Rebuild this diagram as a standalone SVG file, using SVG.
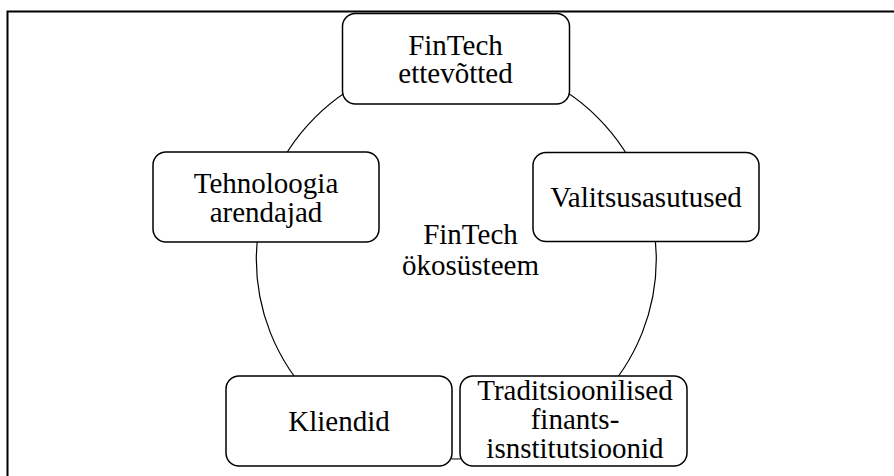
<svg xmlns="http://www.w3.org/2000/svg" width="894" height="476" viewBox="0 0 894 476">
<style>
.box{fill:#fff;stroke:#000;stroke-width:1.5}
.t{font-family:"Liberation Serif","Times New Roman",serif;font-size:29px;fill:#000;text-anchor:middle}
</style>
<rect x="0" y="0" width="894" height="476" fill="#fff"/>
<rect x="7.5" y="11.5" width="920" height="500" fill="none" stroke="#000" stroke-width="2"/>
<g id="connectors">
<circle cx="456.3" cy="259" r="200" fill="none" stroke="#000" stroke-width="1.2"/>
</g>
<g id="center-label">
<text class="t" x="470.5" y="243.5">FinTech</text>
<text class="t" x="470.5" y="275">ökosüsteem</text>
</g>
<g id="fintech">
<rect class="box" x="342.5" y="13.5" width="227" height="90.5" rx="13"/>
<text class="t" x="455.5" y="54.5">FinTech</text>
<text class="t" x="455.5" y="83">ettevõtted</text>
</g>
<g id="tehnoloogia">
<rect class="box" x="153" y="152" width="226" height="90" rx="13"/>
<text class="t" x="266" y="192.5">Tehnoloogia</text>
<text class="t" x="266" y="221.5">arendajad</text>
</g>
<g id="valitsus">
<rect class="box" x="533" y="152.5" width="226" height="89" rx="13"/>
<text class="t" x="646" y="207">Valitsusasutused</text>
</g>
<g id="kliendid">
<rect class="box" x="226" y="376" width="226" height="90" rx="13"/>
<text class="t" x="339" y="431">Kliendid</text>
</g>
<g id="traditsioonilised">
<rect class="box" x="460" y="376" width="227" height="90" rx="13"/>
<text class="t" x="575" y="399.5">Traditsioonilised</text>
<text class="t" x="575" y="428.5">finants-</text>
<text class="t" x="575" y="457.5">isnstitutsioonid</text>
</g>
</svg>
